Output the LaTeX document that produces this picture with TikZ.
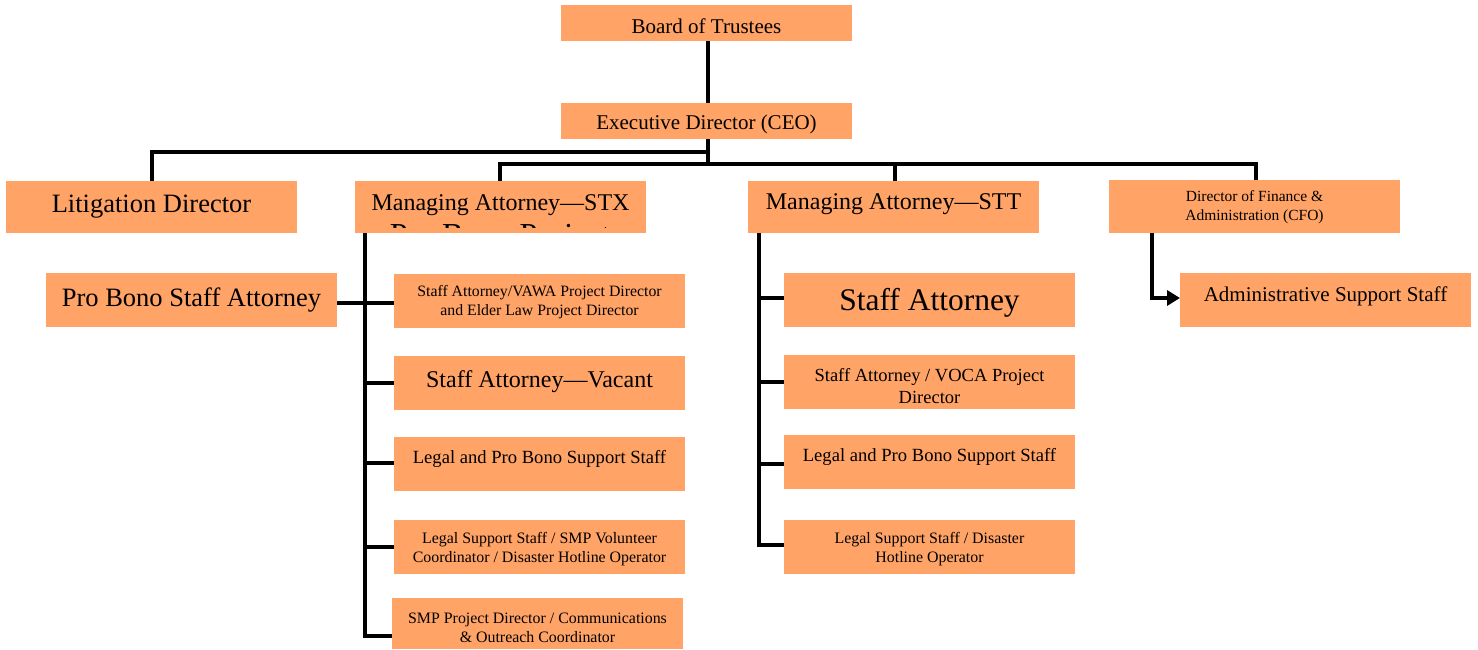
\documentclass[tikz,border=0pt]{standalone}
\usepackage{fontspec}
\setmainfont{Liberation Serif}
\usetikzlibrary{arrows.meta}
\definecolor{boxc}{RGB}{255,163,102}
\tikzset{
  box/.style={fill=boxc, draw=none, inner sep=0pt, outer sep=0pt},
  txt/.style={align=center, inner sep=0pt, text=black},
  conn/.style={line width=4pt, draw=black},
}
\newcommand\obox[8]{%
  \node[box, minimum width={(#4-#2)*1pt}, minimum height={(#5-#3)*1pt}, anchor=north west] (#1) at (#2,#3) {};
  \node[txt, font=\fontsize{#7}{1.2\dimexpr #7pt\relax}\selectfont] (#1-t) at ({(#2+#4)/2},#6) {#8};
}
\begin{document}
\begin{tikzpicture}[x=1pt,y=-1pt]
\useasboundingbox (0,0) rectangle (1478,650);

% top
\obox{bt}{561}{5}{852}{41}{26}{21}{Board of Trustees}
\obox{ceo}{561}{103}{852}{139}{124}{21}{Executive Director (CEO)}

% second level
\obox{lit}{6}{181}{297}{233}{207}{26.5}{Litigation Director}
\obox{stx}{355}{181}{646}{233}{205}{24}{Managing Attorney---STX}
\begin{scope}
  \clip (stx.north west) rectangle (646,227.5);
  \node[txt, font=\fontsize{32}{36}\selectfont, anchor=north] (stx-t2) at (500,224.5) {Pro Bono Project};
\end{scope}
\obox{stt}{748}{181}{1039}{233}{204}{24}{Managing Attorney---STT}
\obox{cfo}{1109}{180}{1400}{233}{207}{15.5}{Director of Finance \&\\Administration (CFO)}

% left
\obox{pb}{46}{273}{337}{327}{300}{26.5}{Pro Bono Staff Attorney}

% STX children
\obox{x1}{394}{274}{685}{328}{302}{15.8}{Staff Attorney/VAWA Project Director\\and Elder Law Project Director}
\obox{x2}{394}{356}{685}{410}{382}{24}{Staff Attorney---Vacant}
\obox{x3}{394}{437}{685}{491}{459}{18.6}{Legal and Pro Bono Support Staff}
\obox{x4}{394}{520}{685}{574}{549}{15.9}{Legal Support Staff / SMP Volunteer\\Coordinator / Disaster Hotline Operator}
\obox{x5}{392}{598}{683}{649}{628}{15.9}{SMP Project Director / Communications\\\& Outreach Coordinator}

% STT children
\obox{t1}{784}{273}{1075}{327}{303}{31.5}{Staff Attorney}
\obox{t2}{784}{355}{1075}{409}{386}{18.5}{Staff Attorney / VOCA Project\\Director}
\obox{t3}{784}{435}{1075}{489}{457}{18.6}{Legal and Pro Bono Support Staff}
\obox{t4}{784}{520}{1075}{574}{549}{15.9}{Legal Support Staff / Disaster\\Hotline Operator}

% CFO child
\obox{adm}{1180}{273}{1471}{327}{296}{21}{Administrative Support Staff}

% connectors
\coordinate (j1) at (708,152);
\coordinate (j2) at (708,164);
\draw[conn] (bt.south -| j1) -- (ceo.north -| j1);
\draw[conn] (ceo.south -| j1) -- (j2);
\draw[conn] (j1) -- (j1 -| lit.north) -- (lit.north);
\draw[conn] (stx.north -| 500,0) |- (j2) -| (1256,180);
\draw[conn] (j2 -| 895,0) -- (stt.north -| 895,0);

% STX branch
\coordinate (sv) at (365,233);
\draw[conn] (sv) -- (365,636) -- (x5.west |- 365,636);
\draw[conn] (pb.east |- 0,303) -- (x1.west |- 0,303);
\draw[conn] (365,383) -- (x2.west |- 0,383);
\draw[conn] (365,463) -- (x3.west |- 0,463);
\draw[conn] (365,547) -- (x4.west |- 0,547);

% STT branch
\coordinate (tv) at (759,233);
\draw[conn] (tv) -- (759,545) -- (t4.west |- 0,545);
\draw[conn] (759,298) -- (t1.west |- 0,298);
\draw[conn] (759,382) -- (t2.west |- 0,382);
\draw[conn] (759,464) -- (t3.west |- 0,464);

% CFO arrow
\draw[conn, -{Triangle[length=13pt,width=15pt]}] (cfo.south -| 1152,0) |- (adm.west |- 0,298);
\end{tikzpicture}
\end{document}
